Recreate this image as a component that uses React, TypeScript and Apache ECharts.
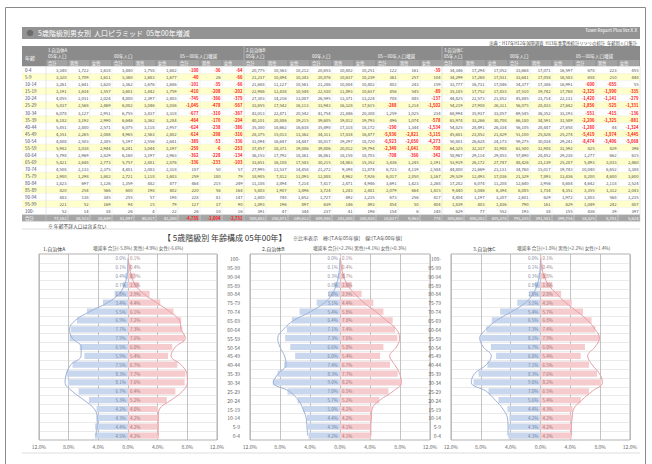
import React, { useEffect, useRef } from "react";
import * as echarts from "echarts";

const AGES = ["0-4","5-9","10-14","15-19","20-24","25-29","30-34","35-39","40-44","45-49","50-54","55-59","60-64","65-69","70-74","75-79","80-84","85-89","90-94","95-99","100-"];
const AREA_NAMES = ["1.自治体A", "2.自治体B", "3.自治体C"];
const GROUP_NAMES = ["05年人口", "00年人口", "05－00年人口増減"];
const SUB_NAMES = ["合計", "男性", "女性"];
const TITLE = "5歳階級別男女別  人口ピラミッド  05年00年増減";
const VERSION = "Town Report Plus Ver.X.X";
const SOURCE = "出典：H17年H12年国勢調査  H13年事業所統計リソリの統計  年齢別人口集計";
const NOTE = "※ 年齢不詳人口は含まない";
const PYR_TITLE = "【 5歳階級別 年齢構成 05年00年】";
const PYR_SUB = "※比率表示　棒:[T.A年05年値]　線:[T.A年00年値]";

// Area 1
const M05_1 = [1722,1709,1641,1634,2031,2568,3127,3192,2880,2265,2503,3038,2969,2648,2133,1298,697,254,138,52,14];
const F05_1 = [1618,1611,1620,1557,2024,2469,2951,2990,2571,2086,2305,2944,2829,2773,2375,1682,1126,566,345,169,38];
const M00_1 = [1758,1683,1676,1842,2397,3046,3437,3362,3118,2563,2556,3044,3197,2881,2083,1118,482,198,57,15,4];
const F00_1 = [1682,1677,1686,1759,2403,3036,3318,3284,2957,2402,2641,3197,2963,2876,2318,1603,877,402,198,79,22];
// Area 2
const M05_2 = [10563,10894,11127,12438,14216,17542,22471,20886,18662,15013,16647,18371,17792,16108,13537,7812,3894,1907,748,196,47];
const F05_2 = [10212,10343,10561,10548,13087,16113,20542,19215,16638,13362,14447,19086,18361,17543,14458,11093,7214,3896,1652,897,344];
const M00_2 = [10402,10637,10884,11893,13371,16328,21446,19812,17318,17834,19297,20012,18158,14863,9398,4962,2471,1243,492,146,41];
const F00_2 = [10251,10239,10402,10637,13224,17615,20308,19793,18172,16477,18720,19794,18703,15352,11874,7926,4946,2481,1235,493,196];
// Area 3
const M05_3 = [17294,17268,16731,17752,22573,27908,35937,33266,28491,23852,26628,32337,29114,26172,21669,12493,6074,3046,1197,403,77];
const F05_3 = [17052,17031,17046,17433,21852,26311,33057,30708,26334,21829,24173,31988,29853,27747,23131,17036,11208,6394,3207,1436,552];
const M00_3 = [17071,17058,17386,19742,23714,28433,36352,34591,28447,25826,30034,31908,28452,23139,15017,7893,3956,1734,629,161,38];
const F00_3 = [16597,16583,16991,17768,22131,27642,33193,31589,27658,25274,29241,31592,29238,25287,19743,13436,8684,4351,1972,629,155];

const X_MAX = 12;
const X_STEP = 4;

const FONT = '"Noto Sans CJK JP","Noto Sans",sans-serif';

const sum = (a: number[]) => a.reduce((s, v) => s + v, 0);
const pct = (a: number[]) => { const t = sum(a); return a.map(v => (v / t) * 100); };
const fmt = (n: number) => {
  const s = Math.abs(Math.round(n)).toString().replace(/\B(?=(\d{3})+(?!\d))/g, ",");
  return (n < 0 ? "-" : "") + s;
};
const rate = (a: number[], b: number[]) => ((sum(a) - sum(b)) / sum(b)) * 100;
const fr = (v: number) => (v >= 0 ? "+" : "") + v.toFixed(1) + "%";

function txt(x: number, y: number, text: string, size: number, fill: string, align = "left", vAlign = "middle", weight = "normal") {
  return {
    type: "text", x, y, silent: true, z: 10,
    style: { text, fill, fontSize: size, fontFamily: FONT, fontWeight: weight, textAlign: align, textVerticalAlign: vAlign, align, verticalAlign: vAlign },
  };
}
function rect(x: number, y: number, w: number, h: number, fill: string, stroke?: string) {
  return { type: "rect", silent: true, z: 5, shape: { x, y, width: w, height: h }, style: { fill, stroke: stroke || null, lineWidth: stroke ? 0.6 : 0 } };
}
function line(x1: number, y1: number, x2: number, y2: number, stroke: string, w = 0.6) {
  return { type: "line", silent: true, z: 6, shape: { x1, y1, x2, y2 }, style: { stroke, lineWidth: w } };
}

function buildOption() {
  const areas = [
    { name: AREA_NAMES[0], m05: M05_1, f05: F05_1, m00: M00_1, f00: F00_1 },
    { name: AREA_NAMES[1], m05: M05_2, f05: F05_2, m00: M00_2, f00: F00_2 },
    { name: AREA_NAMES[2], m05: M05_3, f05: F05_3, m00: M00_3, f00: F00_3 },
  ];
  const G: any[] = [];
  // page frame
  G.push({ type: "rect", silent: true, z: 1, shape: { x: 5.5, y: 7.5, width: 640, height: 470 }, style: { fill: "none", stroke: "#8a8a8a", lineWidth: 1 } });
  // title bar
  G.push(rect(22, 27, 618, 12, "#939393"));
  G.push({ type: "circle", silent: true, z: 7, shape: { cx: 30, cy: 33, r: 3.3 }, style: { fill: "#6c6c6c" } });
  G.push(txt(38, 33.3, TITLE, 7, "#ffffff"));
  G.push(txt(637, 30, VERSION, 4.5, "#ffffff", "right"));
  G.push(txt(637, 42.6, SOURCE, 4.3, "#444444", "right"));

  // table
  const TX = 22, AGEW = 24, CW = 22, HY = 46, HH = 20.5, RY = 66.5, RH = 7.05;
  const TW = AGEW + 27 * CW;
  G.push(rect(TX, HY, TW, HH, "#8b8b8b"));
  G.push(txt(25, 57, "年齢", 5, "#ffffff"));

  const cols: number[][][] = areas.map(ar => {
    const t05 = ar.m05.map((v, i) => v + ar.f05[i]);
    const t00 = ar.m00.map((v, i) => v + ar.f00[i]);
    const d = t05.map((v, i) => v - t00[i]);
    const dm = ar.m05.map((v, i) => v - ar.m00[i]);
    const df = ar.f05.map((v, i) => v - ar.f00[i]);
    return [t05, ar.m05, ar.f05, t00, ar.m00, ar.f00, d, dm, df].map(c => [...c, sum(c)]);
  });

  areas.forEach((ar, a) => {
    const ax = TX + AGEW + a * 9 * CW;
    G.push(txt(ax + 2, 50.3, ar.name, 4.3, "#ffffff"));
    GROUP_NAMES.forEach((gname, g) => {
      const gx = ax + g * 3 * CW;
      G.push(txt(gx + 2, 56.2, gname, 4.5, "#ffffff"));
      SUB_NAMES.forEach((sname, s) => {
        const sx = gx + s * CW;
        G.push(rect(sx + 0.5, 60, CW - 1, 6, "#a2a2a2"));
        G.push(txt(sx + 2, 63.1, sname, 4.2, "#ffffff"));
      });
    });
    if (a > 0) G.push(line(ax, HY, ax, HY + HH, "#c8c8c8"));
  });

  for (let i = 0; i <= AGES.length; i++) {
    const y = RY + i * RH;
    const isTotal = i === AGES.length;
    const fill = isTotal ? "#a6a6a6" : i % 2 === 1 ? "#ffffcc" : "#ffffff";
    G.push(rect(TX, y, TW, RH, fill));
    G.push(line(TX, y + RH, TX + TW, y + RH, "#e8e8e8", 0.4));
    G.push(txt(25, y + RH / 2 + 0.2, isTotal ? "合計" : AGES[i], 4.5, isTotal ? "#ffffff" : "#4a4a6a"));
    cols.forEach((ac, a) => {
      ac.forEach((col, c) => {
        const v = col[i];
        const x = TX + AGEW + (a * 9 + c) * CW + CW - 1.5;
        const neg = v < 0;
        const color = neg ? "#ff1a1a" : isTotal ? "#ffffff" : "#4a4a4a";
        G.push(txt(x, y + RH / 2 + 0.2, fmt(v), 4.2, color, "right", "middle", neg ? "bold" : "normal"));
      });
    });
  }
  for (let c = 0; c <= 27; c++) {
    const x = TX + AGEW + c * CW;
    G.push(line(x, RY, x, RY + (AGES.length + 1) * RH, c % 9 === 0 ? "#cfcfcf" : "#e6e6e6", 0.5));
  }
  G.push(txt(48, 225, NOTE, 4.8, "#444444"));
  G.push(line(22, 229, 640, 229, "#d4d4d4", 0.8));

  // pyramids header
  G.push(txt(163, 237.5, PYR_TITLE, 8, "#333333"));
  G.push(txt(293, 237.5, PYR_SUB, 5, "#555555"));
  const nameX = [43, 262, 473];
  const statX = [93, 313, 517];
  areas.forEach((ar, a) => {
    const rt = rate([...ar.m05, ...ar.f05], [...ar.m00, ...ar.f00]);
    const rm = rate(ar.m05, ar.m00);
    const rf = rate(ar.f05, ar.f00);
    G.push(txt(nameX[a], 248, ar.name, 5, "#444444"));
    G.push(txt(statX[a], 248, `増減率 合計(${fr(rt)}) 男性(${fr(rm)}) 女性(${fr(rf)})`, 4.6, "#555555"));
  });
  G.push(line(22, 453, 640, 453, "#d4d4d4", 0.8));

  const PANELS = [{ left: 39, width: 178 }, { left: 250, width: 180 }, { left: 451, width: 179 }];
  const PTOP = 254, PH = 186;

  const grid: any[] = [], xAxis: any[] = [], yAxis: any[] = [], series: any[] = [];
  areas.forEach((ar, p) => {
    grid.push({ left: PANELS[p].left, width: PANELS[p].width, top: PTOP, height: PH, show: true, borderColor: "#9a9a9a", borderWidth: 0.8, backgroundColor: "transparent", outerBoundsMode: "none" });
    xAxis.push({
      type: "value", gridIndex: p, min: -X_MAX, max: X_MAX, interval: X_STEP,
      axisLine: { show: false }, axisTick: { show: false },
      axisLabel: { fontSize: 5, color: "#666666", margin: 4, fontFamily: FONT, formatter: (v: number) => Math.abs(v).toFixed(1) + "%" },
      splitLine: { show: true, lineStyle: { color: "#b4b4b4", width: 0.8 } },
    });
    yAxis.push({
      type: "category", gridIndex: p, data: AGES,
      axisLine: { show: false }, axisTick: { show: false },
      axisLabel: { show: p > 0, fontSize: 5, color: "#666666", margin: 10, interval: 0, fontFamily: FONT },
      splitLine: { show: true, interval: 0, lineStyle: { color: "#dcdcdc", width: 0.6 } },
    });
    const mp = pct(ar.m05), fp = pct(ar.f05), mo = pct(ar.m00), fo = pct(ar.f00);
    series.push({
      type: "bar", xAxisIndex: p, yAxisIndex: p, data: mp.map(v => -v), barWidth: "70%", barGap: "-100%",
      itemStyle: { color: "#c9d7ee" }, silent: true, z: 2,
    });
    series.push({
      type: "bar", xAxisIndex: p, yAxisIndex: p, data: fp, barWidth: "70%", barGap: "-100%",
      itemStyle: { color: "#f6cbce" }, silent: true, z: 2,
    });
    series.push({
      type: "line", xAxisIndex: p, yAxisIndex: p, data: mo.map((v, i) => [-v, AGES[i]]), smooth: 0.4,
      symbol: "none", lineStyle: { color: "#9db2d8", width: 1 }, silent: true, z: 3,
    });
    series.push({
      type: "line", xAxisIndex: p, yAxisIndex: p, data: fo.map((v, i) => [v, AGES[i]]), smooth: 0.4,
      symbol: "none", lineStyle: { color: "#e6a0a8", width: 1 }, silent: true, z: 3,
    });
    series.push({
      type: "scatter", xAxisIndex: p, yAxisIndex: p, data: mp.map((v, i) => [0, AGES[i], v]), symbolSize: 0.1,
      itemStyle: { color: "rgba(0,0,0,0)" }, silent: true, z: 5,
      label: { show: true, position: "left", distance: 2, fontSize: 4.5, color: "#5a6580", fontFamily: FONT, formatter: (pp: any) => pp.data[2].toFixed(1) + "%" },
    });
    series.push({
      type: "scatter", xAxisIndex: p, yAxisIndex: p, data: fp.map((v, i) => [0, AGES[i], v]), symbolSize: 0.1,
      itemStyle: { color: "rgba(0,0,0,0)" }, silent: true, z: 5,
      label: { show: true, position: "right", distance: 2, fontSize: 4.5, color: "#7a5a60", fontFamily: FONT, formatter: (pp: any) => pp.data[2].toFixed(1) + "%" },
    });
  });

  return {
    animation: false,
    backgroundColor: "#ffffff",
    textStyle: { fontFamily: FONT },
    grid, xAxis, yAxis, series,
    graphic: { elements: G },
  };
}

export default function App() {
  const ref = useRef<HTMLDivElement>(null);
  useEffect(() => {
    if (!ref.current) return;
    const chart = echarts.init(ref.current, null, { renderer: "svg", width: 652, height: 464 });
    chart.setOption(buildOption() as any);
    return () => chart.dispose();
  }, []);
  return <div ref={ref} style={{ position: "absolute", left: 0, top: 0, width: 652, height: 464, background: "#fff" }} />;
}
